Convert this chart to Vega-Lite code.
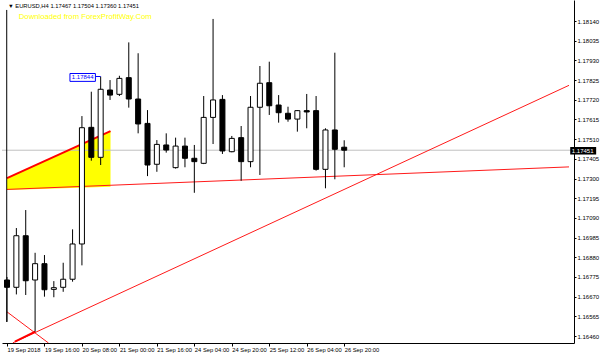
{
  "$schema": "https://vega.github.io/schema/vega-lite/v6.json",
  "width": 572,
  "height": 343,
  "autosize": {"type": "none"},
  "padding": {"left": 2, "top": 0, "right": 26, "bottom": 12},
  "background": "white",
  "config": {"view": {"stroke": null}, "font": "Liberation Sans"},
  "datasets": {
    "candles": [
      {"i": 0, "o": 1.16759, "h": 1.16775, "l": 1.16536, "c": 1.16720},
      {"i": 1, "o": 1.16720, "h": 1.17036, "l": 1.16682, "c": 1.16995},
      {"i": 2, "o": 1.16995, "h": 1.17132, "l": 1.16679, "c": 1.16755},
      {"i": 3, "o": 1.16759, "h": 1.16904, "l": 1.16483, "c": 1.16846},
      {"i": 4, "o": 1.16846, "h": 1.16892, "l": 1.16670, "c": 1.16707},
      {"i": 5, "o": 1.16709, "h": 1.16753, "l": 1.16667, "c": 1.16718},
      {"i": 6, "o": 1.16720, "h": 1.16851, "l": 1.16696, "c": 1.16763},
      {"i": 7, "o": 1.16763, "h": 1.17029, "l": 1.16750, "c": 1.16951},
      {"i": 8, "o": 1.16951, "h": 1.17633, "l": 1.16837, "c": 1.17571},
      {"i": 9, "o": 1.17573, "h": 1.17763, "l": 1.17395, "c": 1.17413},
      {"i": 10, "o": 1.17413, "h": 1.17844, "l": 1.17372, "c": 1.17776},
      {"i": 11, "o": 1.17772, "h": 1.17825, "l": 1.17719, "c": 1.17745},
      {"i": 12, "o": 1.17749, "h": 1.17848, "l": 1.17740, "c": 1.17834},
      {"i": 13, "o": 1.17838, "h": 1.18026, "l": 1.17678, "c": 1.17724},
      {"i": 14, "o": 1.17724, "h": 1.17968, "l": 1.17541, "c": 1.17591},
      {"i": 15, "o": 1.17594, "h": 1.17665, "l": 1.17313, "c": 1.17372},
      {"i": 16, "o": 1.17376, "h": 1.17505, "l": 1.17336, "c": 1.17482},
      {"i": 17, "o": 1.17479, "h": 1.17541, "l": 1.17438, "c": 1.17452},
      {"i": 18, "o": 1.17358, "h": 1.17518, "l": 1.17353, "c": 1.17473},
      {"i": 19, "o": 1.17473, "h": 1.17518, "l": 1.17360, "c": 1.17408},
      {"i": 20, "o": 1.17408, "h": 1.17479, "l": 1.17224, "c": 1.17390},
      {"i": 21, "o": 1.17381, "h": 1.17740, "l": 1.17377, "c": 1.17626},
      {"i": 22, "o": 1.17626, "h": 1.18151, "l": 1.17484, "c": 1.17719},
      {"i": 23, "o": 1.17722, "h": 1.17745, "l": 1.17431, "c": 1.17447},
      {"i": 24, "o": 1.17443, "h": 1.17527, "l": 1.17440, "c": 1.17514},
      {"i": 25, "o": 1.17518, "h": 1.17580, "l": 1.17288, "c": 1.17390},
      {"i": 26, "o": 1.17390, "h": 1.17740, "l": 1.17360, "c": 1.17680},
      {"i": 27, "o": 1.17680, "h": 1.17900, "l": 1.17319, "c": 1.17808},
      {"i": 28, "o": 1.17811, "h": 1.17923, "l": 1.17639, "c": 1.17688},
      {"i": 29, "o": 1.17692, "h": 1.17745, "l": 1.17598, "c": 1.17651},
      {"i": 30, "o": 1.17648, "h": 1.17683, "l": 1.17603, "c": 1.17617},
      {"i": 31, "o": 1.17617, "h": 1.17665, "l": 1.17550, "c": 1.17662},
      {"i": 32, "o": 1.17662, "h": 1.17751, "l": 1.17568, "c": 1.17655},
      {"i": 33, "o": 1.17662, "h": 1.17740, "l": 1.17342, "c": 1.17349},
      {"i": 34, "o": 1.17349, "h": 1.17568, "l": 1.17248, "c": 1.17559},
      {"i": 35, "o": 1.17559, "h": 1.17971, "l": 1.17296, "c": 1.17456},
      {"i": 36, "o": 1.17467, "h": 1.17504, "l": 1.17360, "c": 1.17451}
    ],
    "triangle": [
      {"i": 0, "top": 1.17302, "bottom": 1.17239},
      {"i": 11.05, "top": 1.17553, "bottom": 1.17256}
    ],
    "thinLines": [
      {"x1": 0, "p1": 1.17242, "x2": 60, "p2": 1.17362},
      {"x1": 0.63, "p1": 1.16424, "x2": 60, "p2": 1.17797},
      {"x1": 0, "p1": 1.16589, "x2": 4.43, "p2": 1.16423}
    ],
    "thickLines": [
      {"x1": 0.84, "p1": 1.16430, "x2": 3.01, "p2": 1.16483},
      {"x1": 0, "p1": 1.17302, "x2": 11.05, "p2": 1.17553}
    ],
    "one": [{"k": 1}]
  },
  "resolve": {"axis": {"x": "independent", "y": "independent"}},
  "layer": [
    {
      "data": {"name": "candles"},
      "mark": {"type": "rule", "color": "#000000", "strokeWidth": 1, "opacity": 0},
      "encoding": {
        "x": {"field": "i", "type": "quantitative", "scale": {"domain": [0, 60], "nice": false, "zero": false}, "title": null,
          "axis": {"values": [0, 4, 8, 12, 16, 20, 24, 28, 32, 36],
            "labelExpr": "datum.value == 0 ? '19 Sep 2018' : datum.value == 4 ? '19 Sep 16:00' : datum.value == 8 ? '20 Sep 08:00' : datum.value == 12 ? '21 Sep 00:00' : datum.value == 16 ? '21 Sep 16:00' : datum.value == 20 ? '24 Sep 04:00' : datum.value == 24 ? '24 Sep 20:00' : datum.value == 28 ? '25 Sep 12:00' : datum.value == 32 ? '26 Sep 04:00' : '26 Sep 20:00'",
            "grid": false, "domainColor": "#000000", "tickColor": "#000000", "tickSize": 3, "labelAlign": "left", "labelPadding": 0,
            "labelFontSize": 5.8, "labelColor": "#000000"}},
        "y": {"field": "l", "type": "quantitative", "scale": {"domain": [1.16423, 1.18252], "nice": false, "zero": false}, "title": null,
          "axis": {"orient": "right",
            "values": [1.1646, 1.16565, 1.1667, 1.16775, 1.1688, 1.16985, 1.1709, 1.17195, 1.173, 1.17405, 1.1751, 1.17615, 1.1772, 1.17825, 1.1793, 1.18035, 1.1814],
            "format": ".5f", "grid": false, "domainColor": "#000000", "tickColor": "#000000", "tickSize": 2, "labelPadding": 1,
            "labelFontSize": 6, "labelColor": "#000000"}},
        "y2": {"field": "h"}
      }
    },
    {
      "data": {"name": "triangle"},
      "mark": {"type": "area", "color": "#ffff00", "opacity": 1},
      "encoding": {
        "x": {"field": "i", "type": "quantitative", "scale": {"domain": [0, 60], "nice": false, "zero": false}, "axis": null, "title": null},
        "y": {"field": "top", "type": "quantitative", "scale": {"domain": [1.16423, 1.18252], "nice": false, "zero": false}, "axis": null, "title": null},
        "y2": {"field": "bottom"}
      }
    },
    {
      "data": {"name": "one"},
      "mark": {"type": "rule", "color": "#c0c0c0", "strokeWidth": 1},
      "encoding": {
        "y": {"datum": 1.17451, "type": "quantitative", "scale": {"domain": [1.16423, 1.18252], "nice": false, "zero": false}, "axis": null}
      }
    },
    {
      "data": {"name": "thinLines"},
      "mark": {"type": "rule", "color": "#ff1a1a", "strokeWidth": 1, "clip": true},
      "encoding": {
        "x": {"field": "x1", "type": "quantitative", "scale": {"domain": [0, 60], "nice": false, "zero": false}, "axis": null, "title": null},
        "x2": {"field": "x2"},
        "y": {"field": "p1", "type": "quantitative", "scale": {"domain": [1.16423, 1.18252], "nice": false, "zero": false}, "axis": null, "title": null},
        "y2": {"field": "p2"}
      }
    },
    {
      "data": {"name": "thickLines"},
      "mark": {"type": "rule", "color": "#ff0000", "strokeWidth": 2, "clip": true},
      "encoding": {
        "x": {"field": "x1", "type": "quantitative", "scale": {"domain": [0, 60], "nice": false, "zero": false}, "axis": null, "title": null},
        "x2": {"field": "x2"},
        "y": {"field": "p1", "type": "quantitative", "scale": {"domain": [1.16423, 1.18252], "nice": false, "zero": false}, "axis": null, "title": null},
        "y2": {"field": "p2"}
      }
    },
    {
      "data": {"name": "one"},
      "mark": {"type": "rule", "color": "#000000", "strokeWidth": 1},
      "encoding": {
        "x": {"datum": -0.03, "type": "quantitative", "scale": {"domain": [0, 60], "nice": false, "zero": false}, "axis": null},
        "y": {"datum": 1.18199, "type": "quantitative", "scale": {"domain": [1.16423, 1.18252], "nice": false, "zero": false}, "axis": null},
        "y2": {"datum": 1.16535}
      }
    },
    {
      "data": {"name": "candles"},
      "mark": {"type": "rule", "color": "#000000", "strokeWidth": 1},
      "encoding": {
        "x": {"field": "i", "type": "quantitative", "scale": {"domain": [0, 60], "nice": false, "zero": false}, "axis": null, "title": null},
        "y": {"field": "l", "type": "quantitative", "scale": {"domain": [1.16423, 1.18252], "nice": false, "zero": false}, "axis": null, "title": null},
        "y2": {"field": "h"}
      }
    },
    {
      "data": {"name": "candles"},
      "mark": {"type": "bar", "width": 5, "stroke": "#000000", "strokeWidth": 1, "clip": true},
      "encoding": {
        "x": {"field": "i", "type": "quantitative", "scale": {"domain": [0, 60], "nice": false, "zero": false}, "axis": null, "title": null},
        "y": {"field": "o", "type": "quantitative", "scale": {"domain": [1.16423, 1.18252], "nice": false, "zero": false}, "axis": null, "title": null},
        "y2": {"field": "c"},
        "fill": {"condition": {"test": "datum.c >= datum.o", "value": "#ffffff"}, "value": "#000000"}
      }
    },
    {
      "data": {"name": "one"},
      "mark": {"type": "rule", "color": "#0000ff", "strokeWidth": 1},
      "encoding": {
        "x": {"datum": 9.44, "type": "quantitative", "scale": {"domain": [0, 60], "nice": false, "zero": false}, "axis": null},
        "x2": {"datum": 10.0},
        "y": {"datum": 1.17844, "type": "quantitative", "scale": {"domain": [1.16423, 1.18252], "nice": false, "zero": false}, "axis": null}
      }
    },
    {
      "data": {"name": "one"},
      "mark": {"type": "rect", "fill": "#ffffff", "stroke": "#0000ff", "strokeWidth": 1},
      "encoding": {
        "x": {"datum": 6.72, "type": "quantitative", "scale": {"domain": [0, 60], "nice": false, "zero": false}, "axis": null},
        "x2": {"datum": 9.44},
        "y": {"datum": 1.17860, "type": "quantitative", "scale": {"domain": [1.16423, 1.18252], "nice": false, "zero": false}, "axis": null},
        "y2": {"datum": 1.17818}
      }
    },
    {
      "data": {"name": "one"},
      "mark": {"type": "text", "text": "1.17844", "color": "#0000ff", "fontSize": 6, "align": "center", "baseline": "middle"},
      "encoding": {
        "x": {"datum": 8.08, "type": "quantitative", "scale": {"domain": [0, 60], "nice": false, "zero": false}, "axis": null},
        "y": {"datum": 1.17839, "type": "quantitative", "scale": {"domain": [1.16423, 1.18252], "nice": false, "zero": false}, "axis": null}
      }
    },
    {
      "data": {"name": "one"},
      "mark": {"type": "rect", "fill": "#000000"},
      "encoding": {
        "x": {"datum": 60.13, "type": "quantitative", "scale": {"domain": [0, 60], "nice": false, "zero": false}, "axis": null},
        "x2": {"datum": 62.9},
        "y": {"datum": 1.17468, "type": "quantitative", "scale": {"domain": [1.16423, 1.18252], "nice": false, "zero": false}, "axis": null},
        "y2": {"datum": 1.17428}
      }
    },
    {
      "data": {"name": "one"},
      "mark": {"type": "text", "text": "1.17451", "color": "#ffffff", "fontSize": 6, "align": "left", "baseline": "middle"},
      "encoding": {
        "x": {"datum": 60.3, "type": "quantitative", "scale": {"domain": [0, 60], "nice": false, "zero": false}, "axis": null},
        "y": {"datum": 1.17448, "type": "quantitative", "scale": {"domain": [1.16423, 1.18252], "nice": false, "zero": false}, "axis": null}
      }
    },
    {
      "data": {"name": "one"},
      "mark": {"type": "text", "text": "▼ EURUSD,H4 1.17467 1.17504 1.17360 1.17451", "color": "#000000", "fontSize": 5.8, "align": "left", "baseline": "middle"},
      "encoding": {
        "x": {"datum": 0.1, "type": "quantitative", "scale": {"domain": [0, 60], "nice": false, "zero": false}, "axis": null},
        "y": {"datum": 1.18220, "type": "quantitative", "scale": {"domain": [1.16423, 1.18252], "nice": false, "zero": false}, "axis": null}
      }
    },
    {
      "data": {"name": "one"},
      "mark": {"type": "text", "text": "Downloaded from ForexProfitWay.Com", "color": "#ffff00", "fontSize": 7.7, "align": "left", "baseline": "middle"},
      "encoding": {
        "x": {"datum": 1.26, "type": "quantitative", "scale": {"domain": [0, 60], "nice": false, "zero": false}, "axis": null},
        "y": {"datum": 1.18160, "type": "quantitative", "scale": {"domain": [1.16423, 1.18252], "nice": false, "zero": false}, "axis": null}
      }
    }
  ]
}
